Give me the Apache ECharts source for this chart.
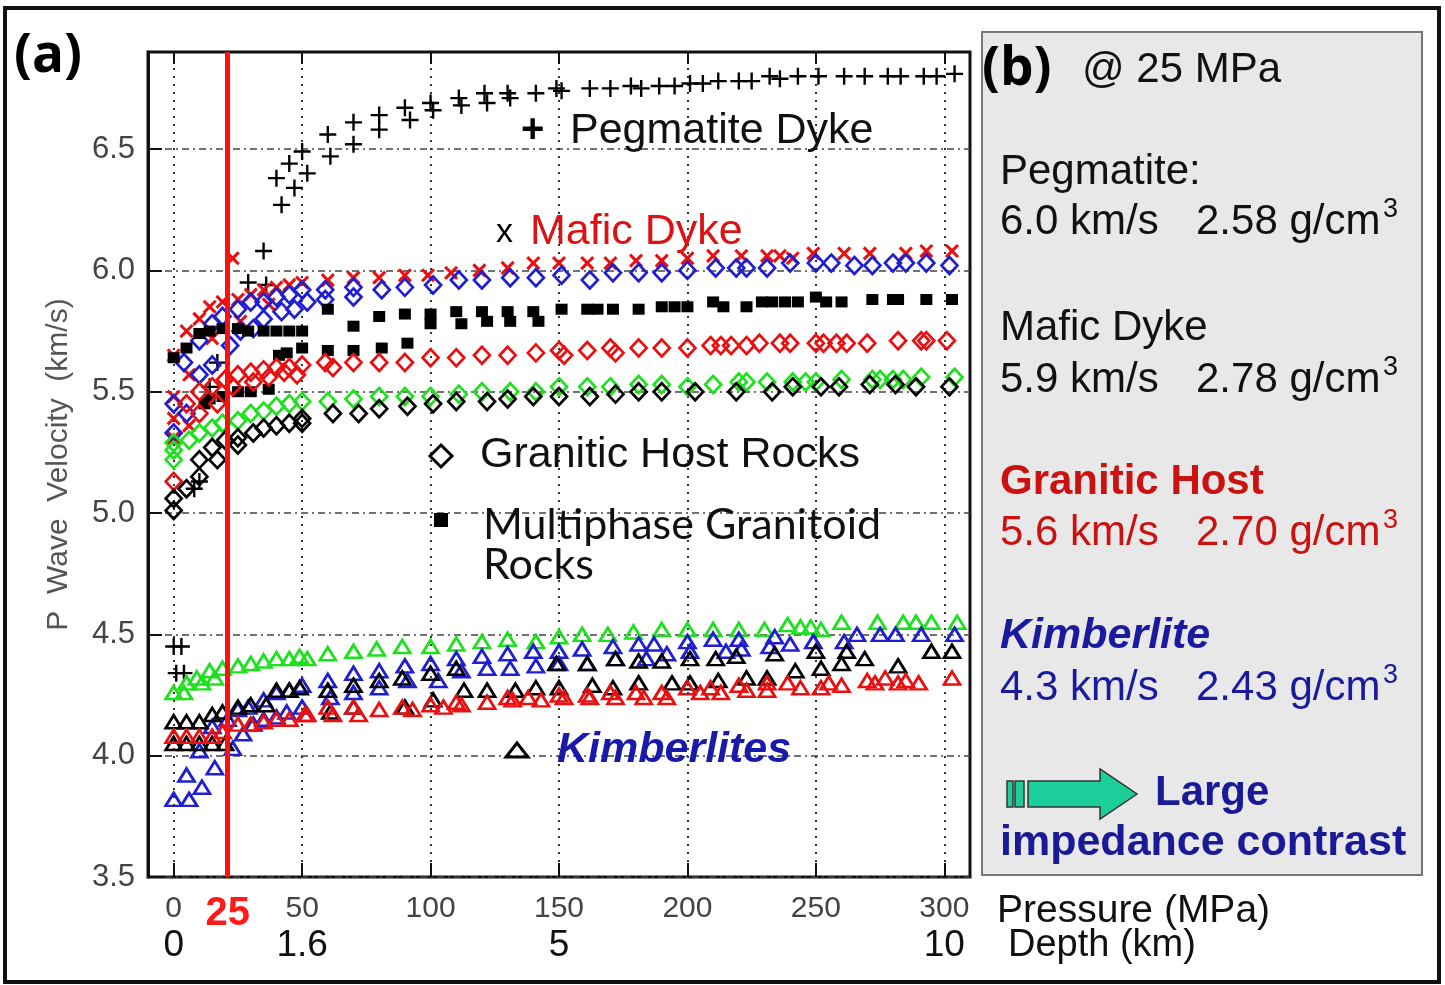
<!DOCTYPE html>
<html>
<head>
<meta charset="utf-8">
<script src="https://cdn.jsdelivr.net/npm/echarts/dist/echarts.min.js"></script>
<style>
html,body{margin:0;padding:0;background:#fff;}
#chart{width:1445px;height:985px;}
</style>
</head>
<body>
<div id="chart"></div>
<script>
// ---------- data (pressure MPa, P-wave velocity km/s) ----------
const xTicks = [0, 50, 100, 150, 200, 250, 300];
const yTicks = [3.5, 4.0, 4.5, 5.0, 5.5, 6.0, 6.5];
const RED_X = 21;               // red "25 MPa" marker line position
const pressureLabelVals = [0, 21, 50, 100, 150, 200, 250, 300];
const depthPos = [0, 50, 150, 300];
const depthLabels = ['0', '1.6', '5', '10'];

const pegmatite = [[0,4.45],[3,4.45],[1,4.34],[4,4.34],[8,5.10],[10,5.13],[14,5.52],[17,5.62],[29,5.95],[36,5.94],[35,6.08],[42,6.27],[40,6.38],[47,6.34],[45,6.44],[50,6.49],[52,6.40],[60,6.56],[61,6.47],[70,6.61],[70,6.52],[80,6.64],[80,6.58],[90,6.67],[92,6.62],[100,6.69],[101,6.66],[111,6.71],[112,6.68],[121,6.73],[122,6.69],[130,6.73],[131,6.71],[141,6.73],[149,6.75],[151,6.74],[162,6.75],[170,6.75],[178,6.76],[182,6.75],[189,6.76],[195,6.76],[201,6.77],[206,6.77],[212,6.78],[220,6.78],[225,6.78],[232,6.80],[236,6.79],[243,6.80],[251,6.80],[261,6.80],[269,6.80],[278,6.80],[283,6.80],[292,6.80],[297,6.80],[304,6.81]];

const maficDyke = [[0,5.65],[0,5.48],[0,5.39],[0,5.31],[5,5.75],[6,5.57],[6,5.36],[10,5.80],[14,5.85],[15,5.72],[19,5.87],[23,6.05],[25,5.88],[26,5.79],[30,5.90],[35,5.92],[37,5.86],[40,5.93],[45,5.94],[50,5.95],[60,5.96],[70,5.97],[80,5.97],[90,5.98],[99,5.98],[108,5.99],[119,6.00],[130,6.01],[140,6.03],[150,6.03],[161,6.03],[170,6.03],[180,6.04],[190,6.04],[200,6.05],[210,6.06],[221,6.06],[231,6.06],[236,6.06],[241,6.05],[249,6.07],[261,6.07],[271,6.07],[285,6.07],[293,6.08],[303,6.08]];

const graniteBlue = [[0,5.45],[0,5.33],[4,5.62],[5,5.41],[10,5.57],[10,5.71],[15,5.61],[15,5.78],[19,5.81],[22,5.69],[25,5.84],[26,5.75],[30,5.87],[31,5.76],[35,5.87],[35,5.80],[40,5.89],[42,5.83],[45,5.90],[47,5.84],[50,5.92],[52,5.87],[59,5.88],[59,5.92],[70,5.89],[70,5.93],[81,5.92],[90,5.93],[101,5.94],[111,5.96],[120,5.96],[131,5.97],[141,5.97],[151,5.98],[162,5.96],[171,5.99],[181,5.99],[190,5.99],[200,6.00],[211,6.01],[219,6.01],[223,6.01],[231,6.01],[240,6.03],[250,6.03],[256,6.03],[265,6.02],[272,6.02],[280,6.03],[285,6.03],[293,6.03],[302,6.02]];

const multiphase = [[0,5.64],[5,5.68],[10,5.74],[12,5.45],[14,5.75],[14,5.47],[19,5.76],[19,5.48],[25,5.76],[25,5.50],[29,5.75],[30,5.50],[35,5.75],[37,5.51],[40,5.75],[41,5.65],[45,5.75],[44,5.66],[50,5.75],[50,5.68],[60,5.84],[60,5.67],[70,5.77],[70,5.67],[80,5.81],[81,5.68],[90,5.82],[91,5.70],[100,5.82],[100,5.78],[110,5.83],[112,5.78],[120,5.83],[122,5.79],[130,5.83],[131,5.79],[140,5.83],[142,5.79],[151,5.84],[161,5.84],[165,5.84],[171,5.84],[181,5.84],[190,5.85],[195,5.85],[200,5.85],[210,5.87],[214,5.85],[223,5.85],[229,5.87],[233,5.87],[238,5.87],[243,5.87],[250,5.89],[254,5.87],[260,5.87],[272,5.88],[280,5.88],[282,5.88],[293,5.88],[303,5.88]];

const graniteRed = [[0,5.13],[5,5.45],[10,5.41],[10,5.50],[15,5.52],[17,5.45],[20,5.55],[23,5.52],[25,5.57],[30,5.58],[31,5.54],[35,5.59],[37,5.56],[40,5.60],[43,5.58],[45,5.60],[48,5.57],[50,5.61],[59,5.62],[62,5.60],[70,5.62],[80,5.62],[90,5.62],[100,5.64],[110,5.64],[120,5.65],[130,5.65],[141,5.66],[150,5.67],[152,5.65],[161,5.67],[170,5.68],[172,5.66],[181,5.68],[190,5.68],[200,5.68],[209,5.69],[213,5.69],[217,5.69],[223,5.69],[228,5.70],[236,5.70],[240,5.70],[250,5.70],[253,5.70],[258,5.70],[262,5.70],[270,5.70],[282,5.71],[291,5.71],[293,5.71],[301,5.71]];

const graniteGreen = [[0,5.22],[0,5.26],[0,5.29],[6,5.30],[10,5.33],[15,5.35],[19,5.37],[25,5.38],[30,5.41],[35,5.42],[40,5.44],[45,5.45],[50,5.46],[60,5.46],[70,5.47],[80,5.48],[90,5.48],[100,5.48],[111,5.49],[120,5.50],[131,5.50],[141,5.50],[150,5.52],[161,5.52],[170,5.52],[181,5.53],[190,5.53],[200,5.52],[210,5.53],[220,5.54],[223,5.54],[231,5.54],[241,5.54],[246,5.54],[250,5.54],[260,5.55],[272,5.55],[275,5.55],[280,5.55],[284,5.55],[291,5.56],[304,5.56]];

const graniteBlack = [[0,5.01],[0,5.06],[5,5.10],[10,5.15],[10,5.22],[15,5.27],[17,5.22],[20,5.30],[25,5.31],[25,5.28],[31,5.33],[35,5.35],[40,5.36],[45,5.37],[50,5.39],[50,5.37],[62,5.41],[72,5.41],[80,5.43],[91,5.44],[101,5.45],[110,5.46],[122,5.46],[130,5.47],[140,5.48],[150,5.48],[162,5.48],[172,5.49],[181,5.50],[190,5.50],[203,5.50],[219,5.50],[233,5.50],[241,5.52],[252,5.52],[259,5.52],[271,5.53],[281,5.53],[289,5.52],[302,5.52]];

const kimbGreen = [[0,4.26],[4,4.26],[5,4.30],[9,4.32],[11,4.30],[14,4.35],[16,4.32],[19,4.36],[25,4.37],[30,4.38],[35,4.39],[40,4.40],[45,4.40],[49,4.41],[52,4.40],[60,4.42],[70,4.43],[79,4.44],[89,4.45],[100,4.45],[110,4.46],[120,4.47],[130,4.48],[141,4.47],[150,4.49],[159,4.50],[169,4.50],[179,4.51],[190,4.52],[200,4.52],[210,4.52],[220,4.52],[230,4.52],[239,4.54],[244,4.53],[248,4.53],[252,4.52],[260,4.55],[274,4.55],[284,4.55],[289,4.55],[295,4.55],[305,4.55]];

const kimbBlue = [[0,3.82],[6,3.82],[5,3.92],[11,3.87],[16,3.95],[10,4.02],[15,4.12],[23,4.03],[21,4.15],[27,4.09],[31,4.13],[35,4.15],[40,4.16],[44,4.18],[50,4.20],[25,4.19],[29,4.20],[35,4.23],[40,4.26],[45,4.27],[50,4.29],[60,4.31],[61,4.24],[70,4.34],[70,4.26],[80,4.35],[80,4.28],[90,4.37],[91,4.31],[100,4.38],[103,4.31],[110,4.40],[112,4.35],[120,4.41],[122,4.36],[130,4.42],[131,4.36],[140,4.43],[141,4.37],[150,4.43],[150,4.38],[159,4.44],[161,4.38],[171,4.45],[172,4.40],[181,4.46],[184,4.40],[187,4.46],[192,4.42],[200,4.47],[201,4.43],[210,4.48],[215,4.43],[220,4.48],[221,4.44],[232,4.45],[234,4.49],[240,4.46],[249,4.47],[261,4.47],[266,4.50],[275,4.50],[281,4.50],[291,4.50],[304,4.50]];

const kimbBlack = [[0,4.05],[5,4.05],[10,4.05],[15,4.05],[20,4.05],[0,4.14],[5,4.14],[10,4.14],[15,4.17],[19,4.18],[25,4.20],[30,4.21],[36,4.21],[40,4.27],[45,4.27],[49,4.28],[60,4.27],[61,4.18],[70,4.29],[70,4.20],[80,4.31],[89,4.32],[90,4.20],[100,4.34],[101,4.23],[110,4.36],[113,4.27],[122,4.27],[133,4.27],[141,4.28],[149,4.38],[150,4.28],[161,4.38],[163,4.29],[172,4.40],[171,4.28],[181,4.39],[181,4.30],[190,4.39],[194,4.30],[201,4.40],[201,4.30],[211,4.40],[212,4.31],[219,4.41],[223,4.32],[231,4.32],[234,4.42],[242,4.35],[250,4.43],[252,4.36],[260,4.38],[262,4.43],[269,4.40],[282,4.37],[295,4.43],[303,4.43]];

const kimbRed = [[0,4.08],[5,4.08],[10,4.08],[15,4.08],[19,4.10],[25,4.13],[30,4.13],[35,4.14],[40,4.15],[45,4.15],[51,4.17],[52,4.17],[60,4.20],[62,4.17],[70,4.20],[72,4.17],[80,4.19],[89,4.20],[93,4.19],[100,4.21],[105,4.20],[110,4.22],[112,4.21],[122,4.22],[130,4.24],[132,4.23],[138,4.24],[143,4.23],[150,4.25],[152,4.24],[161,4.25],[162,4.24],[170,4.26],[172,4.24],[180,4.26],[183,4.24],[190,4.26],[192,4.24],[200,4.28],[205,4.26],[209,4.28],[213,4.26],[220,4.29],[223,4.27],[231,4.30],[231,4.27],[239,4.30],[244,4.28],[252,4.28],[255,4.30],[260,4.29],[270,4.31],[273,4.30],[277,4.32],[282,4.30],[285,4.31],[290,4.30],[303,4.32]];

// ---------- styles ----------
const BLUE = '#1f1fd0', RED = '#e81010', GREEN = '#1fe01f', BLACK = '#000000';
const PLUS = 'path://M4.3,0H5.7V4.3H10V5.7H5.7V10H4.3V5.7H0V4.3H4.3Z';
const CROSS = 'path://M4.1,0H5.9V4.1H10V5.9H5.9V10H4.1V5.9H0V4.1H4.1Z';
const FONT = "'Liberation Sans', Arial, sans-serif";

function hollow(name, data, symbol, size, color) {
  return { name, type: 'scatter', data, symbol, symbolSize: size,
    itemStyle: { color: 'rgba(255,255,255,0)', borderColor: color, borderWidth: 2.7, opacity: 1 } };
}
function filled(name, data, symbol, size, color, rotate) {
  return { name, type: 'scatter', data, symbol, symbolSize: size, symbolRotate: rotate || 0,
    itemStyle: { color, opacity: 1 } };
}

const series = [
  filled('Pegmatite Dyke', pegmatite, PLUS, 17, BLACK),
  filled('Mafic Dyke', maficDyke, CROSS, 17, RED, 45),
  hollow('Granitic blue', graniteBlue, 'diamond', [16, 17], BLUE),
  filled('Multiphase Granitoid Rocks', multiphase, 'rect', [12, 11], BLACK),
  hollow('Granitic red', graniteRed, 'diamond', [16, 17], RED),
  hollow('Granitic green', graniteGreen, 'diamond', [16, 17], GREEN),
  hollow('Granitic black', graniteBlack, 'diamond', [16, 17], BLACK),
  hollow('Kimberlite green', kimbGreen, 'triangle', [16, 13], GREEN),
  hollow('Kimberlite blue', kimbBlue, 'triangle', [16, 13], BLUE),
  hollow('Kimberlite black', kimbBlack, 'triangle', [16, 13], BLACK),
  hollow('Kimberlite red', kimbRed, 'triangle', [16, 13], RED)
];
series[series.length - 1].markLine = {
  silent: true, symbol: 'none', label: { show: false },
  lineStyle: { color: '#ff1010', width: 5, type: 'solid', opacity: 1 },
  data: [{ xAxis: RED_X }]
};

function txt(x, y, text, size, color, font) {
  return { type: 'text', x, y, z: 10,
    style: { text, fill: color || '#000', font: font || (size + 'px ' + FONT),
      textAlign: 'left', textVerticalAlign: 'middle' } };
}

const graphic = [
  { type: 'rect', shape: { x: 5, y: 8, width: 1434, height: 974 }, style: { fill: 'none', stroke: '#111', lineWidth: 4 }, z: 0 },
  // panel (b)
  { type: 'rect', shape: { x: 982, y: 32, width: 440, height: 843 }, style: { fill: '#e8e8e8', stroke: '#777', lineWidth: 2 }, z: 1 },
  txt(14, 57, '(a)', 52, '#000', "bold 53px 'Open Sans', " + FONT),
  txt(982, 70, '(b)', 52, '#000', "bold 53px 'Open Sans', " + FONT),
  txt(1082, 70, '@ 25 MPa', 42, '#111'),
  txt(1000, 172, 'Pegmatite:', 42, '#111'),
  txt(1000, 222, '6.0 km/s', 42, '#111'), txt(1196, 222, '2.58 g/cm', 42, '#111'), txt(1383, 210, '3', 27, '#111'),
  txt(1000, 328, 'Mafic Dyke', 42, '#111'),
  txt(1000, 380, '5.9 km/s', 42, '#111'), txt(1196, 380, '2.78 g/cm', 42, '#111'), txt(1383, 368, '3', 27, '#111'),
  txt(1000, 482, 'Granitic Host', 42, '#cc1111', 'bold 42px ' + FONT),
  txt(1000, 533, '5.6 km/s', 42, '#cc1111'), txt(1196, 533, '2.70 g/cm', 42, '#cc1111'), txt(1383, 521, '3', 27, '#cc1111'),
  txt(1000, 636, 'Kimberlite', 43, '#1a1aa0', 'italic bold 43px ' + FONT),
  txt(1000, 688, '4.3 km/s', 42, '#1a1aa0'), txt(1196, 688, '2.43 g/cm', 42, '#1a1aa0'), txt(1383, 676, '3', 27, '#1a1aa0'),
  // arrow
  { type: 'rect', shape: { x: 1007, y: 781, width: 6, height: 26 }, style: { fill: '#1ccf9a', stroke: '#333', lineWidth: 1.5 }, z: 5 },
  { type: 'rect', shape: { x: 1015, y: 781, width: 9, height: 26 }, style: { fill: '#1ccf9a', stroke: '#333', lineWidth: 1.5 }, z: 5 },
  { type: 'polygon', shape: { points: [[1028,781],[1100,781],[1100,769],[1137,794],[1100,819],[1100,807],[1028,807]] },
    style: { fill: '#1ccf9a', stroke: '#333', lineWidth: 1.5 }, z: 5 },
  txt(1155, 793, 'Large', 42, '#1a1a99', 'bold 42px ' + FONT),
  txt(1000, 843, 'impedance contrast', 43, '#1a1a99', 'bold 43px ' + FONT),
  // axis captions
  txt(997, 911, 'Pressure (MPa)', 39, '#111'),
  txt(1008, 946, 'Depth (km)', 38, '#111'),
  // in-plot annotations
  txt(521, 131, '+', 40, '#000', 'bold 40px ' + FONT),
  txt(570, 131, 'Pegmatite Dyke', 43, '#111'),
  txt(496, 233, 'x', 34, '#000'),
  txt(530, 232, 'Mafic Dyke', 43, '#dd1111'),
  { type: 'polygon', shape: { points: [[441,445],[452,456],[441,467],[430,456]] }, style: { fill: 'none', stroke: '#000', lineWidth: 3 }, z: 10 },
  txt(480, 455, 'Granitic Host Rocks', 43, '#111'),
  { type: 'rect', shape: { x: 434, y: 513, width: 14, height: 14 }, style: { fill: '#000' }, z: 10 },
  txt(483, 525, 'Multiphase Granitoid', 43, '#111', "43px Lato, 'Open Sans', sans-serif"),
  txt(483, 565, 'Rocks', 43, '#111', "43px Lato, 'Open Sans', sans-serif"),
  { type: 'polygon', shape: { points: [[517,743],[528,757],[506,757]] }, style: { fill: 'none', stroke: '#000', lineWidth: 3 }, z: 10 },
  txt(557, 750, 'Kimberlites', 43, '#1a1aaa', 'italic bold 43px ' + FONT)
];

const chart = echarts.init(document.getElementById('chart'), null, { renderer: 'canvas' });
chart.setOption({
  animation: false,
  backgroundColor: '#ffffff',
  textStyle: { fontFamily: FONT },
  grid: { left: 148, top: 52, width: 822, height: 825, show: true, borderColor: '#111', borderWidth: 3, backgroundColor: '#fff' },
  xAxis: [
    { type: 'value', min: -10, max: 310, position: 'bottom',
      axisLine: { show: false, onZero: false },
      axisTick: { show: true, inside: true, length: 14, customValues: xTicks, lineStyle: { color: '#111', width: 2 } },
      axisLabel: { customValues: pressureLabelVals, color: '#444', fontSize: 30, margin: 17,
        formatter: v => (v === RED_X ? '{r|25}' : String(v)),
        rich: { r: { color: '#ff1a1a', fontSize: 40, fontWeight: 'bold' } } },
      splitLine: { show: true, lineStyle: { type: [2, 6], color: '#333', width: 2 } } },
    { type: 'value', min: -10, max: 310, position: 'bottom', offset: 44,
      axisLine: { show: false, onZero: false }, axisTick: { show: false }, splitLine: { show: false },
      axisLabel: { customValues: depthPos, color: '#111', fontSize: 37, margin: 6,
        formatter: v => depthLabels[depthPos.indexOf(v)] } },
    { type: 'value', min: -10, max: 310, position: 'top',
      axisLine: { show: false, onZero: false }, axisLabel: { show: false }, splitLine: { show: false },
      axisTick: { show: true, inside: true, length: 12, customValues: xTicks, lineStyle: { color: '#111', width: 2 } } }
  ],
  yAxis: {
    type: 'value', min: 3.5, max: 6.9, interval: 0.5,
    axisLine: { show: true, onZero: false, lineStyle: { color: '#111', width: 3 } },
    axisTick: { show: true, inside: true, length: 14, customValues: yTicks, lineStyle: { color: '#111', width: 2 } },
    axisLabel: { customValues: yTicks, color: '#444', fontSize: 31, margin: 13, formatter: v => v.toFixed(1) },
    splitLine: { show: true, lineStyle: { type: [7, 4, 2, 4], color: '#444', width: 1.5 } },
    name: 'P  Wave  Velocity  (km/s)', nameLocation: 'middle', nameGap: 74, nameRotate: 90,
    nameTextStyle: { fontSize: 30, color: '#555' }
  },
  series,
  graphic
});
</script>
</body>
</html>
